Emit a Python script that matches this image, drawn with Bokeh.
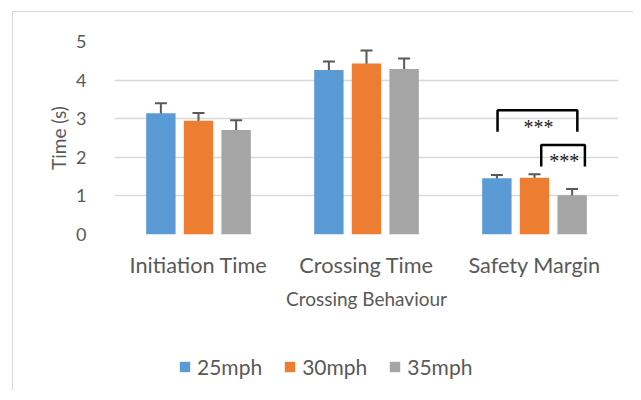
from bokeh.plotting import figure
from bokeh.layouts import column
from bokeh.models import (ColumnDataSource, Whisker, TeeHead, Legend, LegendItem,
                          FixedTicker, Range1d)
from bokeh.embed import file_html
from bokeh.resources import INLINE
from bokeh.core.properties import value

# ---- data ----
categories = ["Initiation Time", "Crossing Time", "Safety Margin"]
series = ["25mph", "30mph", "35mph"]
v25 = [3.14, 4.26, 1.46]
v30 = [2.95, 4.43, 1.47]
v35 = [2.71, 4.29, 1.02]
e25 = [0.26, 0.22, 0.08]
e30 = [0.20, 0.34, 0.09]
e35 = [0.25, 0.27, 0.16]
y_ticks = [0, 1, 2, 3, 4, 5]
sig_text = ["***", "***"]
# significance brackets (x in category units, y in seconds)
br_x0 = [2.28, 2.54]
br_x1 = [2.755, 2.80]
br_top = [3.22, 2.32]
br_leg = [2.66, 1.76]
sig_x = [2.524, 2.677]
sig_y = [2.78, 1.91]

colors = ["#5B9BD5", "#ED7D31", "#A5A5A5"]
FONT = "Lato"
TXT = "#595959"

p = figure(width=620, height=318, x_range=Range1d(0, 3), y_range=Range1d(0, 5),
           output_backend="svg", toolbar_location=None,
           min_border_left=101, min_border_right=15, min_border_top=29,
           min_border_bottom=96)
p.outline_line_color = None
p.background_fill_color = "white"
p.border_fill_color = "white"

offsets = [-0.224, 0.0, 0.224]
bar_w = 0.175
vals = [v25, v30, v35]
errs = [e25, e30, e35]
for k in range(3):
    xs = [i + 0.5 + offsets[k] for i in range(len(categories))]
    src = ColumnDataSource(dict(x=xs, top=vals[k],
                                upper=[a + b for a, b in zip(vals[k], errs[k])],
                                lower=[a - b for a, b in zip(vals[k], errs[k])]))
    p.vbar(x="x", top="top", width=bar_w, bottom=0, source=src,
           fill_color=colors[k], line_color=None)
    w = Whisker(base="x", upper="upper", lower="lower", source=src,
                line_color="#595959", line_width=2,
                upper_head=TeeHead(size=12, line_color="#595959", line_width=2),
                lower_head=TeeHead(size=12, line_color="#595959", line_width=2))
    p.add_layout(w)

# brackets
bxs = [[a, a, b, b] for a, b in zip(br_x0, br_x1)]
bys = [[l, t, t, l] for t, l in zip(br_top, br_leg)]
p.multi_line(xs=bxs, ys=bys, line_color="black", line_width=2.5)
p.text(x=sig_x, y=sig_y, text=sig_text, text_align="center", text_baseline="alphabetic",
       text_font=value("Liberation Serif"), text_font_size="20px", text_color="#222222")

# axes
p.xaxis.ticker = FixedTicker(ticks=[i + 0.5 for i in range(len(categories))])
p.xaxis.major_label_overrides = {i + 0.5: c for i, c in enumerate(categories)}
p.xaxis.axis_label = "Crossing Behaviour"
p.yaxis.ticker = FixedTicker(ticks=y_ticks)
p.yaxis.axis_label = "Time (s)"
for ax in (p.xaxis, p.yaxis):
    ax.axis_line_color = None
    ax.major_tick_line_color = None
    ax.minor_tick_line_color = None
    ax.major_label_text_font = FONT
    ax.major_label_text_color = TXT
    ax.axis_label_text_font = FONT
    ax.axis_label_text_color = TXT
    ax.axis_label_text_font_style = "normal"
p.xaxis.major_label_text_font_size = "21.7px"
p.xaxis.major_label_standoff = 11
p.xaxis.axis_label_text_font_size = "19px"
p.xaxis.axis_label_standoff = 6
p.yaxis.major_label_text_font_size = "18px"
p.yaxis.major_label_standoff = 22
p.yaxis.axis_label_text_font_size = "19px"
p.yaxis.axis_label_standoff = 3

p.xgrid.grid_line_color = None
p.ygrid.grid_line_color = "#D9D9D9"
p.ygrid.grid_line_width = 1.5

# legend strip
pl = figure(width=620, height=60, x_range=Range1d(0, 1), y_range=Range1d(0, 1),
            output_backend="svg", toolbar_location=None,
            x_axis_type=None, y_axis_type=None, min_border=0)
pl.outline_line_color = None
pl.background_fill_color = "white"
pl.border_fill_color = "white"
pl.grid.grid_line_color = None
leg_r = [pl.vbar(x=[0.5], top=[0], bottom=[0], width=0.01, fill_color=c, line_color=None)
         for c in colors]
legend = Legend(items=[LegendItem(label=s, renderers=[r]) for s, r in zip(series, leg_r)],
                orientation="horizontal", location=(64, 11), padding=0, margin=0,
                spacing=21, glyph_width=13, glyph_height=13, label_standoff=6,
                label_text_font=FONT, label_text_font_size="21px", label_text_color=TXT,
                border_line_color=None, background_fill_alpha=0)
pl.add_layout(legend)

layout = column(p, pl, spacing=0)
layout.margin = (11, 0, 0, 12)
layout.styles = {"border-top": "1px solid #D9D9D9", "border-left": "1px solid #D9D9D9"}

open("out.html", "w").write(file_html(layout, INLINE))
